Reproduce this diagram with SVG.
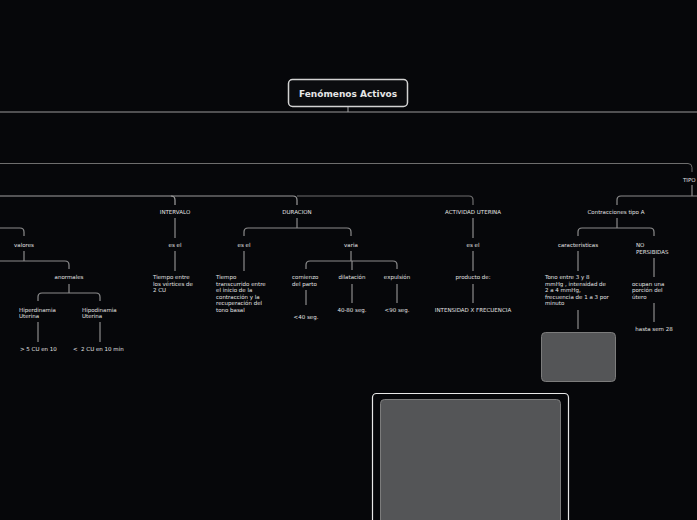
<svg xmlns="http://www.w3.org/2000/svg" width="697" height="520" viewBox="0 0 697 520">
<style>
.c{fill:none;stroke:#8c8c8c;stroke-width:1.2}
.c2{fill:none;stroke:#6e6e6e;stroke-width:1}
.t{font-family:"DejaVu Sans",Verdana,sans-serif;font-size:5.5px;fill:#e2e2e2}
.m{text-anchor:middle}
.title{font-family:"DejaVu Sans",Verdana,sans-serif;font-size:9px;font-weight:bold;fill:#e6e6e6;text-anchor:middle}
.gbox{fill:#545557;stroke:#7c7c7c;stroke-width:1}
</style>
<rect x="0" y="0" width="697" height="520" fill="#06070a"/>
<g id="connectors">
<path class="c" d="M348,106 V112" stroke="#e0e0e0"/>
<path class="c" d="M0,112 H697" stroke-width="1.5" style="stroke:#9a9a9a"/>
<path class="c2" d="M0,163.5 H688 Q692,163.5 692,167.5 V172"/>
<path class="c" d="M692,185 V196"/>
<path class="c" d="M697,196 H621 Q617,196 617,200 V205"/>
<path class="c" d="M0,196 H171 Q175,196 175,200 V205" style="stroke:#a0a0a0"/>
<path class="c" d="M171,196 H293 Q297,196 297,200 V205" style="stroke:#9a9a9a"/>
<path class="c" d="M297,196 H469 Q473,196 473,200 V205" style="stroke:#6f6f6f"/>
<path class="c" d="M175,218 V238 M175,251 V271"/>
<path class="c" d="M297,218 V228 M244,236 V232 Q244,228 248,228 H347 Q351,228 351,232 V236"/>
<path class="c" d="M244,251 V271"/>
<path class="c" d="M351,251 V261 M306,269 V265 Q306,261 310,261 H393 Q397,261 397,265 V269 M352,261 V270"/>
<path class="c" d="M306,290 V305 M352,284 V303 M397,284 V303"/>
<path class="c" d="M473,218 V238 M473,251 V271 M473,284 V303"/>
<path class="c" d="M617,218 V228 M578,236 V232 Q578,228 582,228 H650 Q654,228 654,232 V236"/>
<path class="c" d="M578,251 V271 M578,310 V329"/>
<path class="c" d="M654,258 V277 M654,303 V322"/>
<path class="c" d="M0,228 H20 Q24,228 24,232 V236"/>
<path class="c" d="M24,251 V261" stroke="#e0e0e0"/>
<path class="c" d="M0,261 H65 Q69,261 69,265 V269"/>
<path class="c" d="M69,284 V293 M38,301 V297 Q38,293 42,293 H96 Q100,293 100,297 V301"/>
<path class="c" d="M38,322 V342 M100,322 V342"/>
</g>
<g id="root">
<rect x="288.5" y="79.5" width="119" height="27" rx="4" fill="#0b0c0f" stroke="#d2d2d2" stroke-width="1.5"/>
<text class="title" x="348" y="97">Fenómenos Activos</text>
</g>
<g id="tipo"><text class="t" x="683" y="182">TIPO</text></g>
<g id="intervalo"><text class="t m" x="175" y="214">INTERVALO</text></g>
<g id="duracion"><text class="t m" x="297" y="214">DURACION</text></g>
<g id="actividad"><text class="t m" x="473" y="214">ACTIVIDAD UTERINA</text></g>
<g id="contracciones"><text class="t m" x="616" y="214">Contracciones tipo A</text></g>
<g id="valores"><text class="t m" x="24" y="247">valores</text></g>
<g id="esel1"><text class="t m" x="175" y="247">es el</text></g>
<g id="esel2"><text class="t m" x="244" y="247">es el</text></g>
<g id="varia"><text class="t m" x="351" y="247">varia</text></g>
<g id="esel3"><text class="t m" x="473" y="247">es el</text></g>
<g id="caracteristicas"><text class="t m" x="578" y="247">caracteristicas</text></g>
<g id="nopersibidas"><text class="t" x="636" y="247">NO</text><text class="t" x="636" y="254">PERSIBIDAS</text></g>
<g id="tiempo1"><text class="t" x="153" y="279">Tiempo entre</text><text class="t" x="153" y="286">los vértices de</text><text class="t" x="153" y="292">2 CU</text></g>
<g id="tiempo2"><text class="t" x="216" y="279">Tiempo</text><text class="t" x="216" y="286">transcurrido entre</text><text class="t" x="216" y="292">el inicio de la</text><text class="t" x="216" y="299">contracción y la</text><text class="t" x="216" y="305">recuperación del</text><text class="t" x="216" y="312">tono basal</text></g>
<g id="comienzo"><text class="t" x="292" y="279">comienzo</text><text class="t" x="292" y="286">del parto</text></g>
<g id="dilatacion"><text class="t m" x="352" y="279">dilatación</text></g>
<g id="expulsion"><text class="t m" x="397" y="279">expulsión</text></g>
<g id="v40"><text class="t m" x="306" y="319">&lt;40 seg.</text></g>
<g id="v4080"><text class="t m" x="352" y="312">40-80 seg.</text></g>
<g id="v90"><text class="t m" x="397" y="312">&lt;90 seg.</text></g>
<g id="producto"><text class="t m" x="473" y="279">producto de:</text></g>
<g id="intensidad"><text class="t m" x="473" y="312">INTENSIDAD X FRECUENCIA</text></g>
<g id="anormales"><text class="t m" x="69" y="279">anormales</text></g>
<g id="hiper"><text class="t" x="19" y="312">Hiperdinamia</text><text class="t" x="19" y="318">Uterina</text></g>
<g id="hipo"><text class="t" x="82" y="312">Hipodinamia</text><text class="t" x="82" y="318">Uterina</text></g>
<g id="mas5"><text class="t" x="20" y="351">&gt; 5 CU en 10</text></g>
<g id="menos2"><text class="t" x="73" y="351" xml:space="preserve">&lt;  2 CU en 10 min</text></g>
<g id="tono"><text class="t" x="545" y="279">Tono entre 3 y 8</text><text class="t" x="545" y="286">mmHg , intensidad de</text><text class="t" x="545" y="292">2 a 4 mmHg,</text><text class="t" x="545" y="299">frecuencia de 1 a 3 por</text><text class="t" x="545" y="305">minuto</text></g>
<g id="ocupan"><text class="t" x="632" y="286">ocupan una</text><text class="t" x="632" y="292">porción del</text><text class="t" x="632" y="299">útero</text></g>
<g id="hasta"><text class="t m" x="654" y="331">hasta sem 28</text></g>
<g id="box1"><rect class="gbox" x="541.5" y="332.5" width="74" height="49" rx="4"/></g>
<g id="box2">
<rect x="372.5" y="393.5" width="196" height="140" rx="4" fill="none" stroke="#e8e8e8" stroke-width="1.2"/>
<rect class="gbox" x="380.5" y="399.5" width="180" height="130" rx="4"/>
</g>
</svg>
